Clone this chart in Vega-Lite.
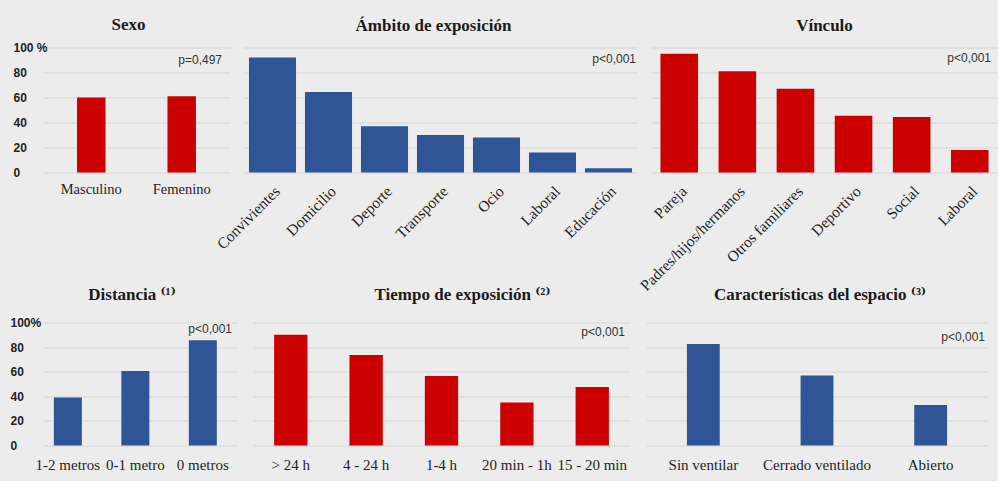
{
  "$schema": "https://vega.github.io/schema/vega-lite/v6.json",
  "background": "#ececec",
  "padding": {"left": 10, "top": 15.5, "right": 0, "bottom": 8},
  "datasets": {
    "bars": [
      {"panel": "Sexo", "cat": "Masculino", "value": 60},
      {"panel": "Sexo", "cat": "Femenino", "value": 61},
      {"panel": "Ambito", "cat": "Convivientes", "value": 92},
      {"panel": "Ambito", "cat": "Domicilio", "value": 64.5},
      {"panel": "Ambito", "cat": "Deporte", "value": 37},
      {"panel": "Ambito", "cat": "Transporte", "value": 30},
      {"panel": "Ambito", "cat": "Ocio", "value": 28},
      {"panel": "Ambito", "cat": "Laboral", "value": 16},
      {"panel": "Ambito", "cat": "Educación", "value": 3.5},
      {"panel": "Vinculo", "cat": "Pareja", "value": 95},
      {"panel": "Vinculo", "cat": "Padres/hijos/hermanos", "value": 81},
      {"panel": "Vinculo", "cat": "Otros familiares", "value": 67},
      {"panel": "Vinculo", "cat": "Deportivo", "value": 45.5},
      {"panel": "Vinculo", "cat": "Social", "value": 44.5},
      {"panel": "Vinculo", "cat": "Laboral", "value": 18},
      {"panel": "Distancia", "cat": "1-2 metros", "value": 39},
      {"panel": "Distancia", "cat": "0-1 metro", "value": 60.5},
      {"panel": "Distancia", "cat": "0 metros", "value": 85.5},
      {"panel": "Tiempo", "cat": "> 24 h", "value": 90},
      {"panel": "Tiempo", "cat": "4 - 24 h", "value": 73.5},
      {"panel": "Tiempo", "cat": "1-4 h", "value": 56.5},
      {"panel": "Tiempo", "cat": "20 min - 1h", "value": 35},
      {"panel": "Tiempo", "cat": "15 - 20 min", "value": 47.5},
      {"panel": "Espacio", "cat": "Sin ventilar", "value": 82.5},
      {"panel": "Espacio", "cat": "Cerrado ventilado", "value": 57},
      {"panel": "Espacio", "cat": "Abierto", "value": 33}
    ],
    "pvals": [
      {"panel": "Sexo", "p": "p=0,497", "value": 90},
      {"panel": "Ambito", "p": "p<0,001", "value": 91},
      {"panel": "Vinculo", "p": "p<0,001", "value": 91.5},
      {"panel": "Distancia", "p": "p<0,001", "value": 95},
      {"panel": "Tiempo", "p": "p<0,001", "value": 92.5},
      {"panel": "Espacio", "p": "p<0,001", "value": 88.5}
    ]
  },
  "config": {
    "view": {"stroke": null},
    "axis": {"domain": false, "ticks": false, "tickSize": 0, "gridColor": "#d6d6d6", "gridWidth": 1, "labelLimit": 400, "labelOverlap": false, "labelFlush": false, "title": null},
    "axisX": {"labelFont": "Liberation Serif", "labelFontSize": 14.5, "labelColor": "#1e1e1e", "labelPadding": 10, "grid": false},
    "axisY": {"values": [0, 20, 40, 60, 80, 100], "labelOverlap": false},
    "title": {"font": "Liberation Serif, DejaVu Serif", "fontSize": 17, "fontWeight": "bold", "color": "#1a1a1a", "baseline": "alphabetic", "anchor": "middle", "frame": "group"},
    "text": {"font": "Liberation Sans", "fontSize": 12, "color": "#333333", "align": "right", "baseline": "middle"}
  },
  "bounds": "flush",
  "spacing": 275,
  "vconcat": [
    {
      "bounds": "flush",
      "spacing": 14,
      "hconcat": [
        {
          "width": 187, "height": 125,
          "title": {"text": "Sexo", "offset": 8, "dx": -8},
          "encoding": {
            "y": {"field": "value", "type": "quantitative", "scale": {"domain": [0, 100]}, "axis": {"values": [0, 20, 40, 60, 80, 100], "labelExpr": "datum.value == 100 ? '100 %' : datum.label", "labelAlign": "left", "labelPadding": 30, "labelFont": "Liberation Sans", "labelFontWeight": "bold", "labelFontSize": 12, "labelColor": "#222222", "labelBaseline": "middle"}}
          },
          "layer": [
            {"data": {"name": "bars"}, "transform": [{"filter": "datum.panel == 'Sexo'"}],
             "mark": {"type": "bar", "color": "#cc0000"},
             "encoding": {
               "x": {"field": "cat", "type": "nominal", "sort": null, "scale": {"paddingInner": 0.685, "paddingOuter": 0.376}, "axis": {"labelAngle": 0}}
             }},
            {"data": {"name": "pvals"}, "transform": [{"filter": "datum.panel == 'Sexo'"}],
             "mark": {"type": "text", "dx": -8},
             "encoding": {"x": {"value": "width"}, "text": {"field": "p"}}}
          ]
        },
        {
          "width": 393, "height": 125,
          "title": {"text": "Ámbito de exposición", "offset": 13, "dx": -7},
          "encoding": {
            "y": {"field": "value", "type": "quantitative", "scale": {"domain": [0, 100]}, "axis": {"values": [0, 20, 40, 60, 80, 100], "labels": false}}
          },
          "layer": [
            {"data": {"name": "bars"}, "transform": [{"filter": "datum.panel == 'Ambito'"}],
             "mark": {"type": "bar", "color": "#2f5597"},
             "encoding": {
               "x": {"field": "cat", "type": "nominal", "sort": null, "scale": {"paddingInner": 0.16, "paddingOuter": 0.089}, "axis": {"labelAngle": -45, "labelPadding": 11, "labelFontSize": 15.5}}
             }},
            {"data": {"name": "pvals"}, "transform": [{"filter": "datum.panel == 'Ambito'"}],
             "mark": {"type": "text", "dx": -1},
             "encoding": {"x": {"value": "width"}, "text": {"field": "p"}}}
          ]
        },
        {
          "width": 347, "height": 125,
          "title": {"text": "Vínculo", "offset": 13},
          "encoding": {
            "y": {"field": "value", "type": "quantitative", "scale": {"domain": [0, 100]}, "axis": {"values": [0, 20, 40, 60, 80, 100], "labels": false}}
          },
          "layer": [
            {"data": {"name": "bars"}, "transform": [{"filter": "datum.panel == 'Vinculo'"}],
             "mark": {"type": "bar", "color": "#cc0000"},
             "encoding": {
               "x": {"field": "cat", "type": "nominal", "sort": null, "scale": {"paddingInner": 0.353, "paddingOuter": 0.163}, "axis": {"labelAngle": -45, "labelPadding": 11, "labelFontSize": 15.5}}
             }},
            {"data": {"name": "pvals"}, "transform": [{"filter": "datum.panel == 'Vinculo'"}],
             "mark": {"type": "text", "dx": -7},
             "encoding": {"x": {"value": "width"}, "text": {"field": "p"}}}
          ]
        }
      ]
    },
    {
      "bounds": "flush",
      "spacing": 16,
      "hconcat": [
        {
          "width": 194, "height": 123,
          "title": {"text": "Distancia ⁽¹⁾", "offset": 13, "dx": -8},
          "encoding": {
            "y": {"field": "value", "type": "quantitative", "scale": {"domain": [0, 100]}, "axis": {"values": [0, 20, 40, 60, 80, 100], "labelExpr": "datum.value == 100 ? '100%' : datum.label", "labelAlign": "left", "labelPadding": 33, "labelFont": "Liberation Sans", "labelFontWeight": "bold", "labelFontSize": 12, "labelColor": "#222222", "labelBaseline": "middle"}}
          },
          "layer": [
            {"data": {"name": "bars"}, "transform": [{"filter": "datum.panel == 'Distancia'"}],
             "mark": {"type": "bar", "color": "#2f5597"},
             "encoding": {
               "x": {"field": "cat", "type": "nominal", "sort": null, "scale": {"paddingInner": 0.585, "paddingOuter": 0.23, "align": 0.35}, "axis": {"labelAngle": 0, "labelPadding": 12, "labelFontSize": 15}}
             }},
            {"data": {"name": "pvals"}, "transform": [{"filter": "datum.panel == 'Distancia'"}],
             "mark": {"type": "text", "dx": -5},
             "encoding": {"x": {"value": "width"}, "text": {"field": "p"}}}
          ]
        },
        {
          "width": 377, "height": 123,
          "title": {"text": "Tiempo de exposición ⁽²⁾", "offset": 19, "dx": 21},
          "encoding": {
            "y": {"field": "value", "type": "quantitative", "scale": {"domain": [0, 100]}, "axis": {"values": [0, 20, 40, 60, 80, 100], "labels": false}}
          },
          "layer": [
            {"data": {"name": "bars"}, "transform": [{"filter": "datum.panel == 'Tiempo'"}],
             "mark": {"type": "bar", "color": "#cc0000"},
             "encoding": {
               "x": {"field": "cat", "type": "nominal", "sort": null, "scale": {"paddingInner": 0.558, "paddingOuter": 0.28}, "axis": {"labelAngle": 0, "labelPadding": 12, "labelFontSize": 15}}
             }},
            {"data": {"name": "pvals"}, "transform": [{"filter": "datum.panel == 'Tiempo'"}],
             "mark": {"type": "text", "dx": -5},
             "encoding": {"x": {"value": "width"}, "text": {"field": "p"}}}
          ]
        },
        {
          "width": 342, "height": 123,
          "title": {"text": "Características del espacio ⁽³⁾", "offset": 19, "dx": 3},
          "encoding": {
            "y": {"field": "value", "type": "quantitative", "scale": {"domain": [0, 100]}, "axis": {"values": [0, 20, 40, 60, 80, 100], "labels": false}}
          },
          "layer": [
            {"data": {"name": "bars"}, "transform": [{"filter": "datum.panel == 'Espacio'"}],
             "mark": {"type": "bar", "color": "#2f5597"},
             "encoding": {
               "x": {"field": "cat", "type": "nominal", "sort": null, "scale": {"paddingInner": 0.711, "paddingOuter": 0.36}, "axis": {"labelAngle": 0, "labelPadding": 12, "labelFontSize": 15}}
             }},
            {"data": {"name": "pvals"}, "transform": [{"filter": "datum.panel == 'Espacio'"}],
             "mark": {"type": "text", "dx": -3},
             "encoding": {"x": {"value": "width"}, "text": {"field": "p"}}}
          ]
        }
      ]
    }
  ]
}
